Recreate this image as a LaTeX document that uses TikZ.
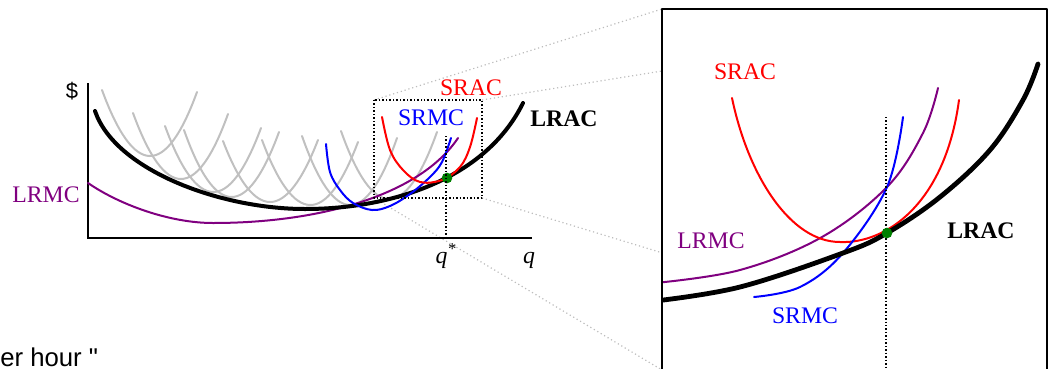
\documentclass[tikz,border=0pt]{standalone}
\usepackage{fontspec}
\setmainfont{Liberation Serif}
\setsansfont{Liberation Sans}
\newfontfamily\tailfont{Liberation Sans}
\usetikzlibrary{calc}
\definecolor{ccRed}{HTML}{FF0000}
\definecolor{ccBlue}{HTML}{0000FF}
\definecolor{ccPurple}{HTML}{800080}
\definecolor{ccGreen}{HTML}{008000}
\definecolor{ccShade}{HTML}{C0C0C0}
\definecolor{ccLead}{HTML}{BDBDBD}
\tikzset{
 costfig/.style={font=\fontsize{17.8}{21}\selectfont,line cap=round,line join=round},
 axis/.style={draw=black,line width=1.7pt,line cap=butt,line join=miter},
 lrac/.style={draw=black,line width=3pt},
 lracbig/.style={draw=black,line width=3.6pt},
 lrmc/.style={draw=ccPurple,line width=1.5pt},
 srac/.style={draw=ccRed,line width=1.5pt},
 srmc/.style={draw=ccBlue,line width=1.5pt},
 shade/.style={draw=ccShade,line width=1.5pt},
 guide/.style={draw=black,line width=1.1pt,line cap=butt,dash pattern=on 1.1pt off 1.5pt},
 lead/.style={draw=ccLead,line width=.9pt,line cap=butt,dash pattern=on .9pt off 2.1pt},
 frame/.style={draw=black,line width=1.5pt},
 tangent/.style={circle,fill=ccGreen,inner sep=0pt,minimum size=8pt},
 lbl/.style={anchor=base,inner sep=0pt},
 lblbold/.style={lbl,font=\fontsize{17.8}{21}\selectfont\bfseries},
 sanslbl/.style={inner sep=0pt,font=\sffamily\fontsize{16.5}{20}\selectfont}
}

\begin{document}
\begin{tikzpicture}[costfig,x=.75pt,y=-.75pt]
 \useasboundingbox (0,0) rectangle (1048,368);
 % corners of the zoom box and of the inset
 \coordinate (zTL) at (374,100); \coordinate (zTR) at (482,100);
 \coordinate (zBL) at (374,198); \coordinate (zBR) at (482,198);
 \coordinate (iTL) at (662,9);   \coordinate (iTR) at (1047,9);
 \coordinate (iBL) at (662,370); \coordinate (iBR) at (1047,370);
 \draw[lead] (zTL) -- (iTL); \draw[lead] (zTR) -- (iTR);
 \draw[lead] (zBL) -- (iBL); \draw[lead] (zBR) -- (iBR);

 % main graph
 \coordinate (yTop) at (88,83); \coordinate (orig) at (88,238); \coordinate (xEnd) at (532,238);
 \draw[axis] (yTop) -- (orig) -- (xEnd);
 % short-run average cost family (parabolic arcs)
 \foreach \xl/\yl/\xr/\yr/\c/\b in {102/90/197/92/150/156,133/113/228/114/181/179,
   165/126/261/128/213/192,184/130/279/132/231/197,223/141/318/140/270/202,
   262/140/358/142/310/205,302/136/397/138/350/205,341/131/437/132/389/199}{
  \pgfmathsetmacro\qy{2*\b-(\yl+\yr)/2}
  \draw[shade] (\xl,\yl) .. controls ({\xl+2*(\c-\xl)/3},{\yl+2*(\qy-\yl)/3})
    and ({\xr+2*(\c-\xr)/3},{\yr+2*(\qy-\yr)/3}) .. (\xr,\yr);
 }
 \draw[lrmc] (88,183) .. controls (120,205) and (170,223) .. (213,223)
   .. controls (320,223) and (420,195) .. (458,138);
 \draw[lrac] (95,111) .. controls (115,170) and (220,209) .. (305,209)
   .. controls (390,209) and (485,180) .. (523,103);
 \draw[srmc] plot[smooth,tension=.6] coordinates {(326,144) (330,172) (340,190) (353,203)
   (372,210) (390,206) (410,194) (430,177) (442,162) (451,138)};
 \draw[srac] plot[smooth,tension=.6] coordinates {(382,117) (390,150) (403,170) (420,182)
   (442,180) (460,167) (470,147) (477,118)};
 \draw[guide] (zTL) rectangle (zBR);
 \node[tangent] (eqMain) at (447,178) {};
 \coordinate (qTop) at (446,136); \coordinate (qFoot) at (446,238);
 \draw[guide] (qTop) -- (qFoot);

 \node[sanslbl] (dollar) at (72,91) {\$};
 \node[lbl,text=ccPurple] (lrmcMain) at (46,202) {LRMC};
 \node[lbl,text=ccRed] (sracMain) at (471,95) {SRAC};
 \node[lbl,text=ccBlue] (srmcMain) at (431,125) {SRMC};
 \node[lblbold] (lracMain) at (564,126) {LRAC};
 \node[lbl] (qStar) at (446,263) {\itshape q\textsuperscript{*}};
 \node[lbl] (qAxis) at (529,263) {\itshape q};
 \node[anchor=base west,inner sep=0pt,font=\tailfont\fontsize{19.3}{22}\selectfont] (capTail) at (0,366) {er hour "};

 % inset
 \fill[white] (iTL) rectangle (iBR);
 \begin{scope}
  \clip (iTL) rectangle (iBR);
  \draw[lrmc] plot[smooth,tension=.6] coordinates {(655,283) (740,270) (822,237) (887,187)
    (923,133) (938,88)};
  \draw[srac] (732,98) .. controls (748,175) and (790,242) .. (840,242)
    .. controls (885,244) and (945,205) .. (959,100);
  \draw[srmc] plot[smooth,tension=.6] coordinates {(754,297) (800,287) (843,253) (887,187)
    (903,117)};
  \draw[lracbig] plot[smooth,tension=.6] coordinates {(655,301) (740,287) (843,253)
    (887,233) (940,197) (990,150) (1023,100) (1038,64)};
  \coordinate (vTop) at (886,117); \coordinate (vFoot) at (886,372);
  \draw[guide] (vTop) -- (vFoot);
  \node[tangent] (eqInset) at (887,233) {};
 \end{scope}
 \draw[frame] (iTL) rectangle (iBR);
 \node[lbl,text=ccRed] (sracInset) at (745,79) {SRAC};
 \node[lbl,text=ccPurple] (lrmcInset) at (711,248) {LRMC};
 \node[lbl,text=ccBlue] (srmcInset) at (805,323) {SRMC};
 \node[lblbold] (lracInset) at (981,238) {LRAC};
\end{tikzpicture}
\end{document}
